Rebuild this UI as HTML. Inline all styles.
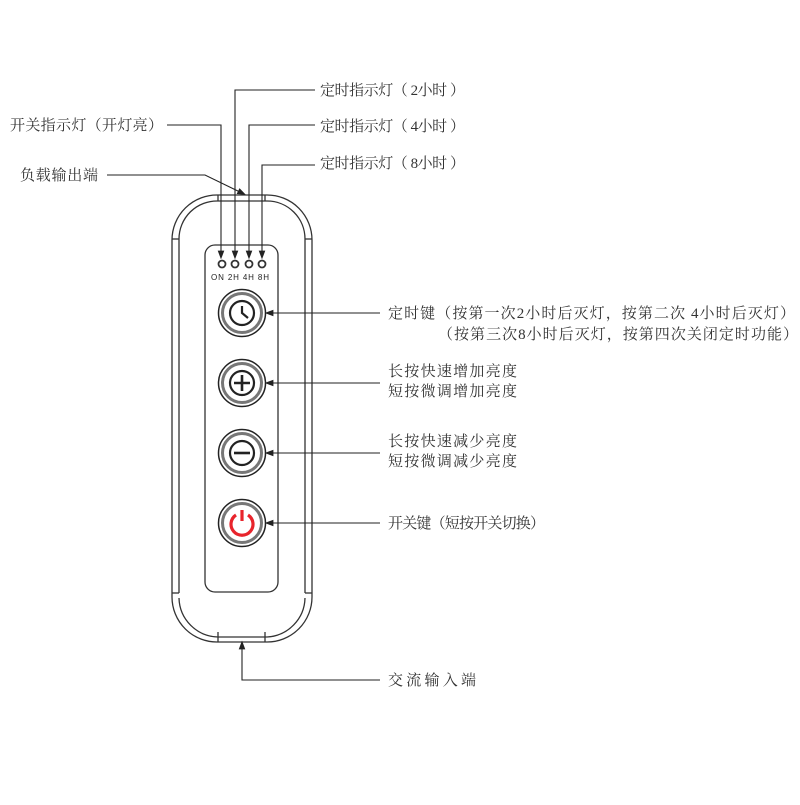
<!DOCTYPE html>
<html><head><meta charset="utf-8"><style>
body{margin:0;background:#fff}
svg text{font-family:"Liberation Serif","Noto Serif CJK SC",serif;font-size:15px;fill:#333}
</style></head><body>
<svg width="800" height="800" viewBox="0 0 800 800" xmlns="http://www.w3.org/2000/svg">
<defs><marker id="a" markerWidth="8" markerHeight="8" refX="4" refY="4" orient="auto"><path d="M0,1 L8,4 L0,7 z" fill="#222"/></marker></defs>
<g fill="none" stroke="#333" stroke-width="1.3">
<path d="M218,195 H267 A45,45 0 0 1 312,240 V597 A45,45 0 0 1 267,642 H218 A45,45 0 0 1 172,597 V240 A45,45 0 0 1 218,195 Z"/>
<path d="M218,201 H267 A38,38 0 0 1 305,239 V593 M218,201 A38,38 0 0 0 179,239 V593 M179,598 A40,40 0 0 0 218,637 H267 A40,40 0 0 0 305,598"/>
<line x1="172" y1="239" x2="179" y2="239"/><line x1="305" y1="239" x2="312" y2="239"/>
<line x1="172" y1="593" x2="179" y2="593"/><line x1="305" y1="593" x2="312" y2="593"/>
<line x1="218" y1="195" x2="218" y2="201"/><line x1="265" y1="195" x2="265" y2="201"/>
<line x1="218" y1="632" x2="218" y2="642"/><line x1="265" y1="632" x2="265" y2="642"/>
<path d="M215,245 H268 A10,10 0 0 1 278,255 V582 A10,10 0 0 1 268,592 H215 A10,10 0 0 1 205,582 V255 A10,10 0 0 1 215,245 Z"/>
<circle cx="222" cy="264" r="3.5" stroke-width="1.8"/><circle cx="235" cy="264" r="3.5" stroke-width="1.8"/>
<circle cx="249" cy="264" r="3.5" stroke-width="1.8"/><circle cx="262" cy="264" r="3.5" stroke-width="1.8"/>
</g>
<text x="211" y="280" style="font-family:'Liberation Sans',sans-serif;font-size:8px;fill:#222" textLength="58">ON 2H 4H 8H</text>
<g fill="none" stroke="#222" stroke-width="1.1">
<polyline points="167,125 221,125 221,255" marker-end="url(#a)"/>
<polyline points="315,90 235,90 235,255" marker-end="url(#a)"/>
<polyline points="315,125 249,125 249,255" marker-end="url(#a)"/>
<polyline points="315,165 262,165 262,255" marker-end="url(#a)"/>
<polyline points="107,175 205,175 242,193" marker-end="url(#a)"/>
<line x1="380" y1="313" x2="269" y2="313" marker-end="url(#a)"/>
<line x1="380" y1="383" x2="269" y2="383" marker-end="url(#a)"/>
<line x1="380" y1="453" x2="269" y2="453" marker-end="url(#a)"/>
<line x1="380" y1="523" x2="269" y2="523" marker-end="url(#a)"/>
<polyline points="380,680 242,680 242,645" marker-end="url(#a)"/>
</g>
<g fill="none" stroke="#222">
<g transform="translate(242,313)"><circle r="23.5" stroke-width="1.5"/><circle r="19.5" stroke="#777" stroke-width="3"/><circle r="12" stroke-width="2.2"/><polyline points="0,-7 0,0 6,5" stroke-width="2.2"/></g>
<g transform="translate(242,383)"><circle r="23.5" stroke-width="1.5"/><circle r="19.5" stroke="#777" stroke-width="3"/><circle r="12" stroke-width="2.2"/><path d="M-8,0H8M0,-8V8" stroke-width="2.6"/></g>
<g transform="translate(242,453)"><circle r="23.5" stroke-width="1.5"/><circle r="19.5" stroke="#777" stroke-width="3"/><circle r="12" stroke-width="2.2"/><path d="M-8,0H8" stroke-width="2.6"/></g>
<g transform="translate(242,523)"><circle r="23.5" stroke-width="1.5"/><circle r="19.5" stroke="#777" stroke-width="3"/><path d="M-6,-8 A11,11 0 1 0 6,-8" stroke="#e8242c" stroke-width="3.2"/><path d="M0,-13V-2" stroke="#e8242c" stroke-width="3.2"/></g>
</g>
<text x="10" y="130" textLength="153" lengthAdjust="spacing">开关指示灯（开灯亮）</text>
<text x="20" y="180" textLength="78" lengthAdjust="spacing">负载输出端</text>
<text x="320" y="95" textLength="145" lengthAdjust="spacing">定时指示灯（ 2小时 ）</text>
<text x="320" y="131" textLength="145" lengthAdjust="spacing">定时指示灯（ 4小时 ）</text>
<text x="320" y="168" textLength="145" lengthAdjust="spacing">定时指示灯（ 8小时 ）</text>
<text x="388" y="318" textLength="407" lengthAdjust="spacing">定时键（按第一次2小时后灭灯，按第二次 4小时后灭灯）</text>
<text x="438" y="339" textLength="360" lengthAdjust="spacing">（按第三次8小时后灭灯，按第四次关闭定时功能）</text>
<text x="388" y="376" textLength="129" lengthAdjust="spacing">长按快速增加亮度</text>
<text x="388" y="396" textLength="129" lengthAdjust="spacing">短按微调增加亮度</text>
<text x="388" y="446" textLength="129" lengthAdjust="spacing">长按快速减少亮度</text>
<text x="388" y="466" textLength="129" lengthAdjust="spacing">短按微调减少亮度</text>
<text x="388" y="528" textLength="157" lengthAdjust="spacing">开关键（短按开关切换）</text>
<text x="388" y="685" textLength="88" lengthAdjust="spacing">交流输入端</text>
</svg>
</body></html>
